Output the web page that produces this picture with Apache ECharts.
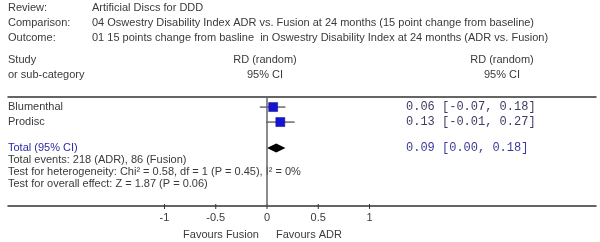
<!DOCTYPE html>
<html>
<head>
<meta charset="utf-8">
<script src="https://cdn.jsdelivr.net/npm/echarts@6/dist/echarts.min.js"></script>
<style>
    html, body {margin: 0; background: #fff;}
    #chart {width: 600px; height: 242px;}
</style>
</head>
<body>
<div id="chart"></div>
<script>
// study rows
const studies = ['Blumenthal', 'Prodisc'];
const estimates = [0.06, 0.13];
const lowerCI = [-0.07, -0.01];
const upperCI = [0.18, 0.27];
const studyRows = [0.67, 1.67];

// pooled result
const totalLabel = 'Total (95% CI)';
const totalValues = [0.09, 0.00, 0.18];
const totalRow = 3.4;

// axis
const tickValues = [-1, -0.5, 0, 0.5, 1];
const Y_MAX = 109 / 15;

const headerKeys = ['Review:', 'Comparison:', 'Outcome:'];
const headerTexts = [
    'Artificial Discs for DDD',
    '04 Oswestry Disability Index ADR vs. Fusion at 24 months (15 point change from baseline)',
    '01 15 points change from basline  in Oswestry Disability Index at 24 months (ADR vs. Fusion)'
];
const footerTexts = [
    'Total events: 218 (ADR), 86 (Fusion)',
    'Test for heterogeneity: Chi\u00b2 = 0.58, df = 1 (P = 0.45), I\u00b2 = 0%',
    'Test for overall effect: Z = 1.87 (P = 0.06)'
];

const FONT = '11px Arial, "Liberation Sans", sans-serif';
const MONO = '12px "Courier New", "Liberation Mono", monospace';
const TEXT = '#3a3a3a';

function ciText(v, lo, hi) {
    return v.toFixed(2) + ' [' + lo.toFixed(2) + ', ' + hi.toFixed(2) + ']';
}

function txt(x, y, s, extra) {
    let style = Object.assign({text: s, font: FONT, fill: TEXT, verticalAlign: 'middle'}, extra || {});
    return {type: 'text', x: x, y: y, silent: true, style: style};
}

let graphics = [];
headerKeys.forEach((k, i) => {
    graphics.push(txt(8, 8 + i * 15, k));
    graphics.push(txt(92, 8 + i * 15, headerTexts[i]));
});
graphics.push(txt(8, 60, 'Study'));
graphics.push(txt(8, 75, 'or sub-category'));
graphics.push(txt(265, 60, 'RD (random)', {align: 'center'}));
graphics.push(txt(265, 75, '95% CI', {align: 'center'}));
graphics.push(txt(502, 60, 'RD (random)', {align: 'center'}));
graphics.push(txt(502, 75, '95% CI', {align: 'center'}));
footerTexts.forEach((s, i) => graphics.push(txt(8, 160 + i * 12, s)));
graphics.push(txt(221, 235, 'Favours Fusion', {align: 'center'}));
graphics.push(txt(309, 235, 'Favours ADR', {align: 'center'}));

const studyData = studies.map((s, i) => [estimates[i], lowerCI[i], upperCI[i], studyRows[i]]);

let chartDom = document.getElementById('chart');
let myChart = echarts.init(chartDom, null, {renderer: 'canvas'});

let option = {
    animation: false,
    grid: {left: 8, right: 4, top: 97, bottom: 36},
    xAxis: [{
        type: 'value',
        min: -2.527,
        max: 3.21,
        splitLine: {show: false},
        axisLine: {onZero: false, lineStyle: {color: '#333', width: 1.5}},
        axisTick: {show: false},
        axisLabel: {customValues: tickValues, color: TEXT, fontSize: 11, fontFamily: 'Arial', margin: 6,
            formatter: v => String(v)}
    }, {
        type: 'value',
        position: 'top',
        min: -2.527,
        max: 3.21,
        splitLine: {show: false},
        axisLine: {show: true, onZero: false, lineStyle: {color: '#333', width: 1.5}},
        axisTick: {show: false},
        axisLabel: {show: false}
    }],
    yAxis: {type: 'value', inverse: true, min: 0, max: Y_MAX, show: false},
    graphic: graphics,
    series: [{
        // axis ticks
        type: 'custom',
        clip: false,
        silent: true,
        data: tickValues.map(v => [v, Y_MAX]),
        renderItem(params, api) {
            let p = api.coord([api.value(0), api.value(1)]);
            return {type: 'line', shape: {x1: p[0], y1: p[1] - 2, x2: p[0], y2: p[1] + 3}, style: {stroke: '#333', lineWidth: 1}};
        }
    }, {
        type: 'custom',
        clip: false,
        data: studyData,
        markLine: {
            silent: true,
            symbol: 'none',
            label: {show: false},
            lineStyle: {color: '#666', width: 1.5, type: 'solid'},
            data: [{xAxis: 0}]
        },
        renderItem(params, api) {
            let y = api.value(3);
            let c = api.coord([api.value(0), y]);
            let lo = api.coord([api.value(1), y]);
            let hi = api.coord([api.value(2), y]);
            let i = params.dataIndex;
            return {type: 'group', children: [
                {type: 'line', shape: {x1: lo[0], y1: c[1], x2: hi[0], y2: c[1]}, style: {stroke: '#222', lineWidth: 1}},
                {type: 'rect', shape: {x: c[0] - 4.5, y: c[1] - 4.5, width: 9, height: 9}, style: {fill: '#1414d2', stroke: '#0a0a8a', lineWidth: 0.5}},
                {type: 'text', x: 8, y: c[1], style: {text: studies[i], font: FONT, fill: TEXT, verticalAlign: 'middle'}},
                {type: 'text', x: 406, y: c[1], style: {text: ciText(api.value(0), api.value(1), api.value(2)), font: MONO, fill: '#3d3d66', verticalAlign: 'middle'}}
            ]};
        }
    }, {
        type: 'custom',
        clip: false,
        data: [[totalValues[0], totalValues[1], totalValues[2], totalRow]],
        renderItem(params, api) {
            let y = api.value(3);
            let c = api.coord([api.value(0), y]);
            let lo = api.coord([api.value(1), y]);
            let hi = api.coord([api.value(2), y]);
            return {type: 'group', children: [
                {type: 'polygon', shape: {points: [[lo[0], c[1]], [c[0], c[1] - 4.5], [hi[0], c[1]], [c[0], c[1] + 4.5]]}, style: {fill: '#000'}},
                {type: 'text', x: 8, y: c[1], style: {text: totalLabel, font: FONT, fill: '#2a2aa8', verticalAlign: 'middle'}},
                {type: 'text', x: 406, y: c[1], style: {text: ciText(api.value(0), api.value(1), api.value(2)), font: MONO, fill: '#3a3a9a', verticalAlign: 'middle'}}
            ]};
        }
    }]
};

option && myChart.setOption(option);
</script>
</body>
</html>
